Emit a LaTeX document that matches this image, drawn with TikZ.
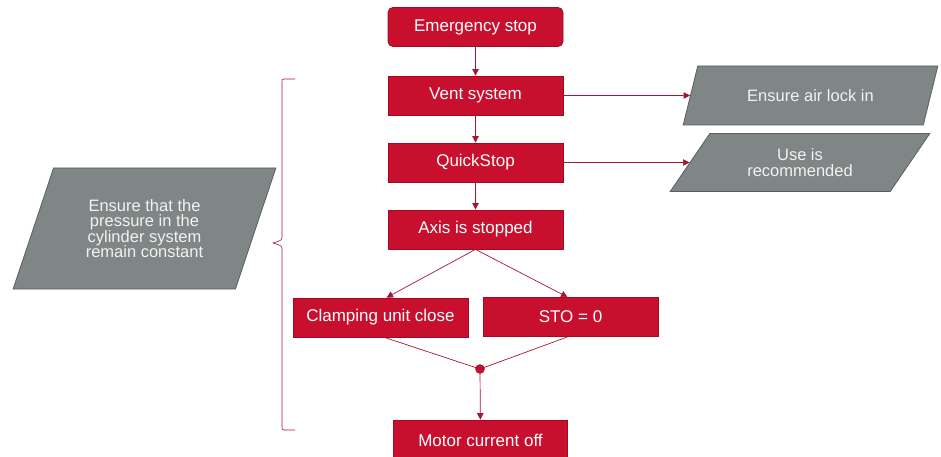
\documentclass[tikz,border=0pt]{standalone}
\usepackage{fontspec}
\setmainfont{Liberation Sans}
\usetikzlibrary{shapes.geometric,arrows.meta}
\definecolor{boxred}{RGB}{200,16,46}
\definecolor{boxedge}{RGB}{160,10,35}
\definecolor{linered}{RGB}{170,20,50}
\definecolor{parafill}{RGB}{128,133,133}
\definecolor{paraedge}{RGB}{90,95,95}
\tikzset{
  redbox/.style={draw=boxedge, line width=0.8pt, fill=boxred, text=white,
    minimum width=175pt, minimum height=39pt, inner sep=0pt,
    font=\fontsize{17}{19}\selectfont},
  parabox/.style={trapezium, trapezium stretches=true, draw=paraedge, line width=0.8pt,
    fill=parafill, text=white!95!black, inner sep=0pt, align=center,
    font=\fontsize{16.5}{15.5}\selectfont},
  conn/.style={draw=linered, line width=0.7pt},
  arr/.style={conn, -{Triangle[length=6.5pt,width=6.5pt]}},
}
\begin{document}
\begin{tikzpicture}[x=1pt,y=-1pt]
\useasboundingbox (0,0) rectangle (941,457);
% main chain
\node[redbox, rounded corners=5pt] (es) at (475.5,27) {Emergency stop};
\node[redbox] (vent) at (475.5,95.5) {Vent system};
\node[redbox] (qs) at (475.5,162.5) {QuickStop};
\node[redbox] (axis) at (475.5,229.5) {Axis is stopped};
\node[redbox] (clamp) at (380.5,317.5) {Clamping unit close};
\node[redbox] (sto) at (570.5,317) {STO = 0};
\node[redbox, minimum width=174pt, minimum height=40pt] (motor) at (480.5,440) {Motor current off};
\node[circle, fill=boxred, draw=boxedge, minimum size=9pt, inner sep=0pt] (dot) at (480,369) {};
% parallelograms
\node[parabox, minimum width=255pt, minimum height=59pt,
  trapezium left angle=56, trapezium right angle=124] (air) at (810.5,95.5) {Ensure air lock in};
\node[parabox, minimum width=260pt, minimum height=58pt,
  trapezium left angle=50, trapezium right angle=130] (use) at (800,162.5) {Use is\\recommended};
\node[parabox, minimum width=263pt, minimum height=121pt,
  trapezium left angle=66, trapezium right angle=114] (press) at (144.5,228.5)
  {Ensure that the\\pressure in the\\cylinder system\\remain constant};
% connectors
\draw[arr] (es) -- (vent);
\draw[arr] (vent) -- (qs);
\draw[arr] (qs) -- (axis);
\draw[arr] (axis.south) -- ([xshift=6pt]clamp.north);
\draw[arr] (axis.south) -- ([xshift=-3pt]sto.north);
\draw[conn] ([xshift=4pt]clamp.south) -- (dot.center);
\draw[conn] ([xshift=-3pt]sto.south) -- (dot.center);
\draw[arr] (dot) -- (motor);
\draw[arr] (vent.east) -- (air.west);
\draw[arr] (qs.east) -- (use.west);
% brace
\coordinate (bt) at (295,79);
\coordinate (bb) at (295,430);
\coordinate (bm) at (273,243);
\draw[conn, line width=0.6pt] (bt) -- (284,79) .. controls (282,79) and (282,80) .. (282,82)
  -- (282,238) .. controls (282,241) and (276,242) .. (bm)
  .. controls (276,244) and (282,245) .. (282,248)
  -- (282,427) .. controls (282,429) and (282,430) .. (284,430) -- (bb);
\end{tikzpicture}
\end{document}
